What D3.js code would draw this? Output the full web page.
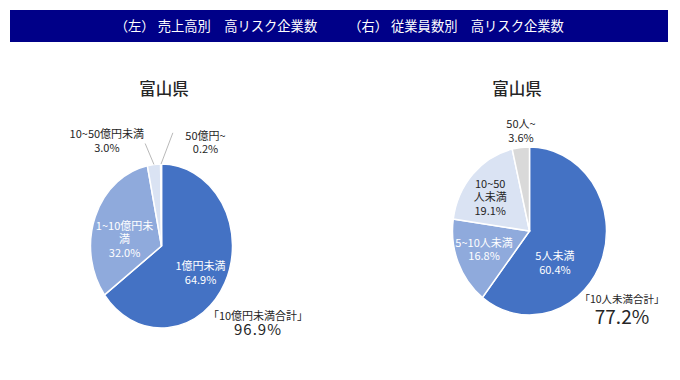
<!DOCTYPE html>
<html><head><meta charset="utf-8">
<script src="https://cdn.jsdelivr.net/npm/d3@7"></script>
<style>
body{margin:0;background:#fff;}
svg{display:block;font-family:"Noto Sans CJK JP","Noto Sans",sans-serif;}
</style></head>
<body><svg id="c" width="680" height="380"></svg>
<script>
// ---- data ----
const headerLeft = "（左） 売上高別　高リスク企業数";
const headerRight = "（右） 従業員数別　高リスク企業数";
const prefTitle = "富山県";

const salesCategories = ["1億円未満", "1~10億円未満", "10~50億円未満", "50億円~"];
const salesValues = [64.9, 32.0, 3.0, 0.2];
const salesTotalLabel = "「10億円未満合計」";
const salesTotalValue = "96.9%";

const empCategories = ["5人未満", "5~10人未満", "10~50人未満", "50人~"];
const empValues = [60.4, 16.8, 19.1, 3.6];
const empTotalLabel = "「10人未満合計」";
const empTotalValue = "77.2%";

// ---- drawing ----
const svg = d3.select("#c");
svg.append("rect").attr("x", 10).attr("y", 10).attr("width", 658).attr("height", 32).attr("fill", "#000088");
svg.append("text").attr("x", 216).attr("y", 31).attr("text-anchor", "middle").attr("fill", "#fff")
  .attr("font-size", 13.3).text(headerLeft);
svg.append("text").attr("x", 456).attr("y", 31).attr("text-anchor", "middle").attr("fill", "#fff")
  .attr("font-size", 13.3).text(headerRight);

const R = 100;
const pie = d3.pie().sort(null).value(d => d.v);
const arc = d3.arc().innerRadius(0).outerRadius(R);

function drawPie(cfg) {
  const data = cfg.cats.map((c, i) => ({c, v: cfg.vals[i]}));
  const arcs = pie(data);
  const sx = cfg.rx / R, sy = cfg.ry / R;
  svg.append("text").attr("x", cfg.titleX).attr("y", 95).attr("text-anchor", "middle")
    .attr("font-size", 16.5).attr("font-weight", 500).attr("fill", "#262626").text(prefTitle);
  const g = svg.append("g").attr("transform", `translate(${cfg.cx},${cfg.cy}) scale(${sx},${sy})`);
  g.selectAll("path").data(arcs).join("path")
    .attr("d", arc)
    .attr("fill", (d, i) => cfg.colors[i])
    .attr("stroke", "#fff").attr("stroke-width", 1.5)
    .attr("vector-effect", "non-scaling-stroke");

  // labels: positions given relative to the pie's centre in radius units
  arcs.forEach((a, i) => {
    const L = cfg.labels[i];
    const x = cfg.cx + L.dx * cfg.rx, y = cfg.cy + L.dy * cfg.ry;
    const lines = L.lines.concat([a.data.v.toFixed(1) + "%"]);
    const t = svg.append("text").attr("text-anchor", "middle").attr("font-size", 11)
      .attr("fill", L.fill);
    const lh = 13.5;
    lines.forEach((ln, k) => {
      t.append("tspan").attr("x", x).attr("y", y + (k - (lines.length - 1) / 2) * lh + 4).text(ln);
    });
    if (L.leader) {
      const ang = (a.startAngle + a.endAngle) / 2;
      const ex = cfg.cx + Math.sin(ang) * cfg.rx, ey = cfg.cy - Math.cos(ang) * cfg.ry;
      svg.append("path")
        .attr("d", `M${cfg.cx + L.leader[0] * cfg.rx},${cfg.cy + L.leader[1] * cfg.ry} L${ex},${ey}`)
        .attr("stroke", "#a6a6a6").attr("fill", "none").attr("stroke-width", 0.8);
    }
  });

  svg.append("text").attr("x", cfg.totX).attr("y", cfg.totY).attr("text-anchor", "middle")
    .attr("font-size", cfg.totLabelSize).attr("fill", "#262626").text(cfg.totLabel);
  svg.append("text").attr("x", cfg.totX + cfg.totValDx).attr("y", cfg.totY + cfg.totValDy).attr("text-anchor", "middle")
    .attr("font-size", cfg.totValSize).attr("fill", "#262626").attr("letter-spacing", cfg.totValSpacing)
    .text(cfg.totVal);
}

drawPie({
  cats: salesCategories, vals: salesValues,
  colors: ["#4472C4", "#8FAADC", "#DAE3F3", "#C9D6EE"],
  cx: 161.5, cy: 246, rx: 71, ry: 82, titleX: 164,
  labels: [
    {dx: 0.55, dy: 0.33, lines: ["1億円未満"], fill: "#fff"},
    {dx: -0.52, dy: -0.08, lines: ["1~10億円未", "満"], fill: "#fff"},
    {dx: -0.77, dy: -1.28, lines: ["10~50億円未満"], fill: "#262626", leader: [-0.23, -1.25]},
    {dx: 0.62, dy: -1.26, lines: ["50億円~"], fill: "#262626", leader: [0.16, -1.38]}
  ],
  totX: 258, totY: 320, totLabel: salesTotalLabel, totLabelSize: 11,
  totValDx: 0, totValDy: 15, totValSize: 15, totValSpacing: 1, totVal: salesTotalValue
});

drawPie({
  cats: empCategories, vals: empValues,
  colors: ["#4472C4", "#8FAADC", "#DAE3F3", "#D9D9D9"],
  cx: 529.5, cy: 231, rx: 77, ry: 84, titleX: 517,
  labels: [
    {dx: 0.33, dy: 0.38, lines: ["5人未満"], fill: "#fff"},
    {dx: -0.59, dy: 0.22, lines: ["5~10人未満"], fill: "#fff"},
    {dx: -0.51, dy: -0.4, lines: ["10~50", "人未満"], fill: "#262626"},
    {dx: -0.11, dy: -1.19, lines: ["50人~"], fill: "#262626"}
  ],
  totX: 622, totY: 303, totLabel: empTotalLabel, totLabelSize: 10.5,
  totValDx: 0, totValDy: 21, totValSize: 19, totValSpacing: 0, totVal: empTotalValue
});
</script></body></html>
